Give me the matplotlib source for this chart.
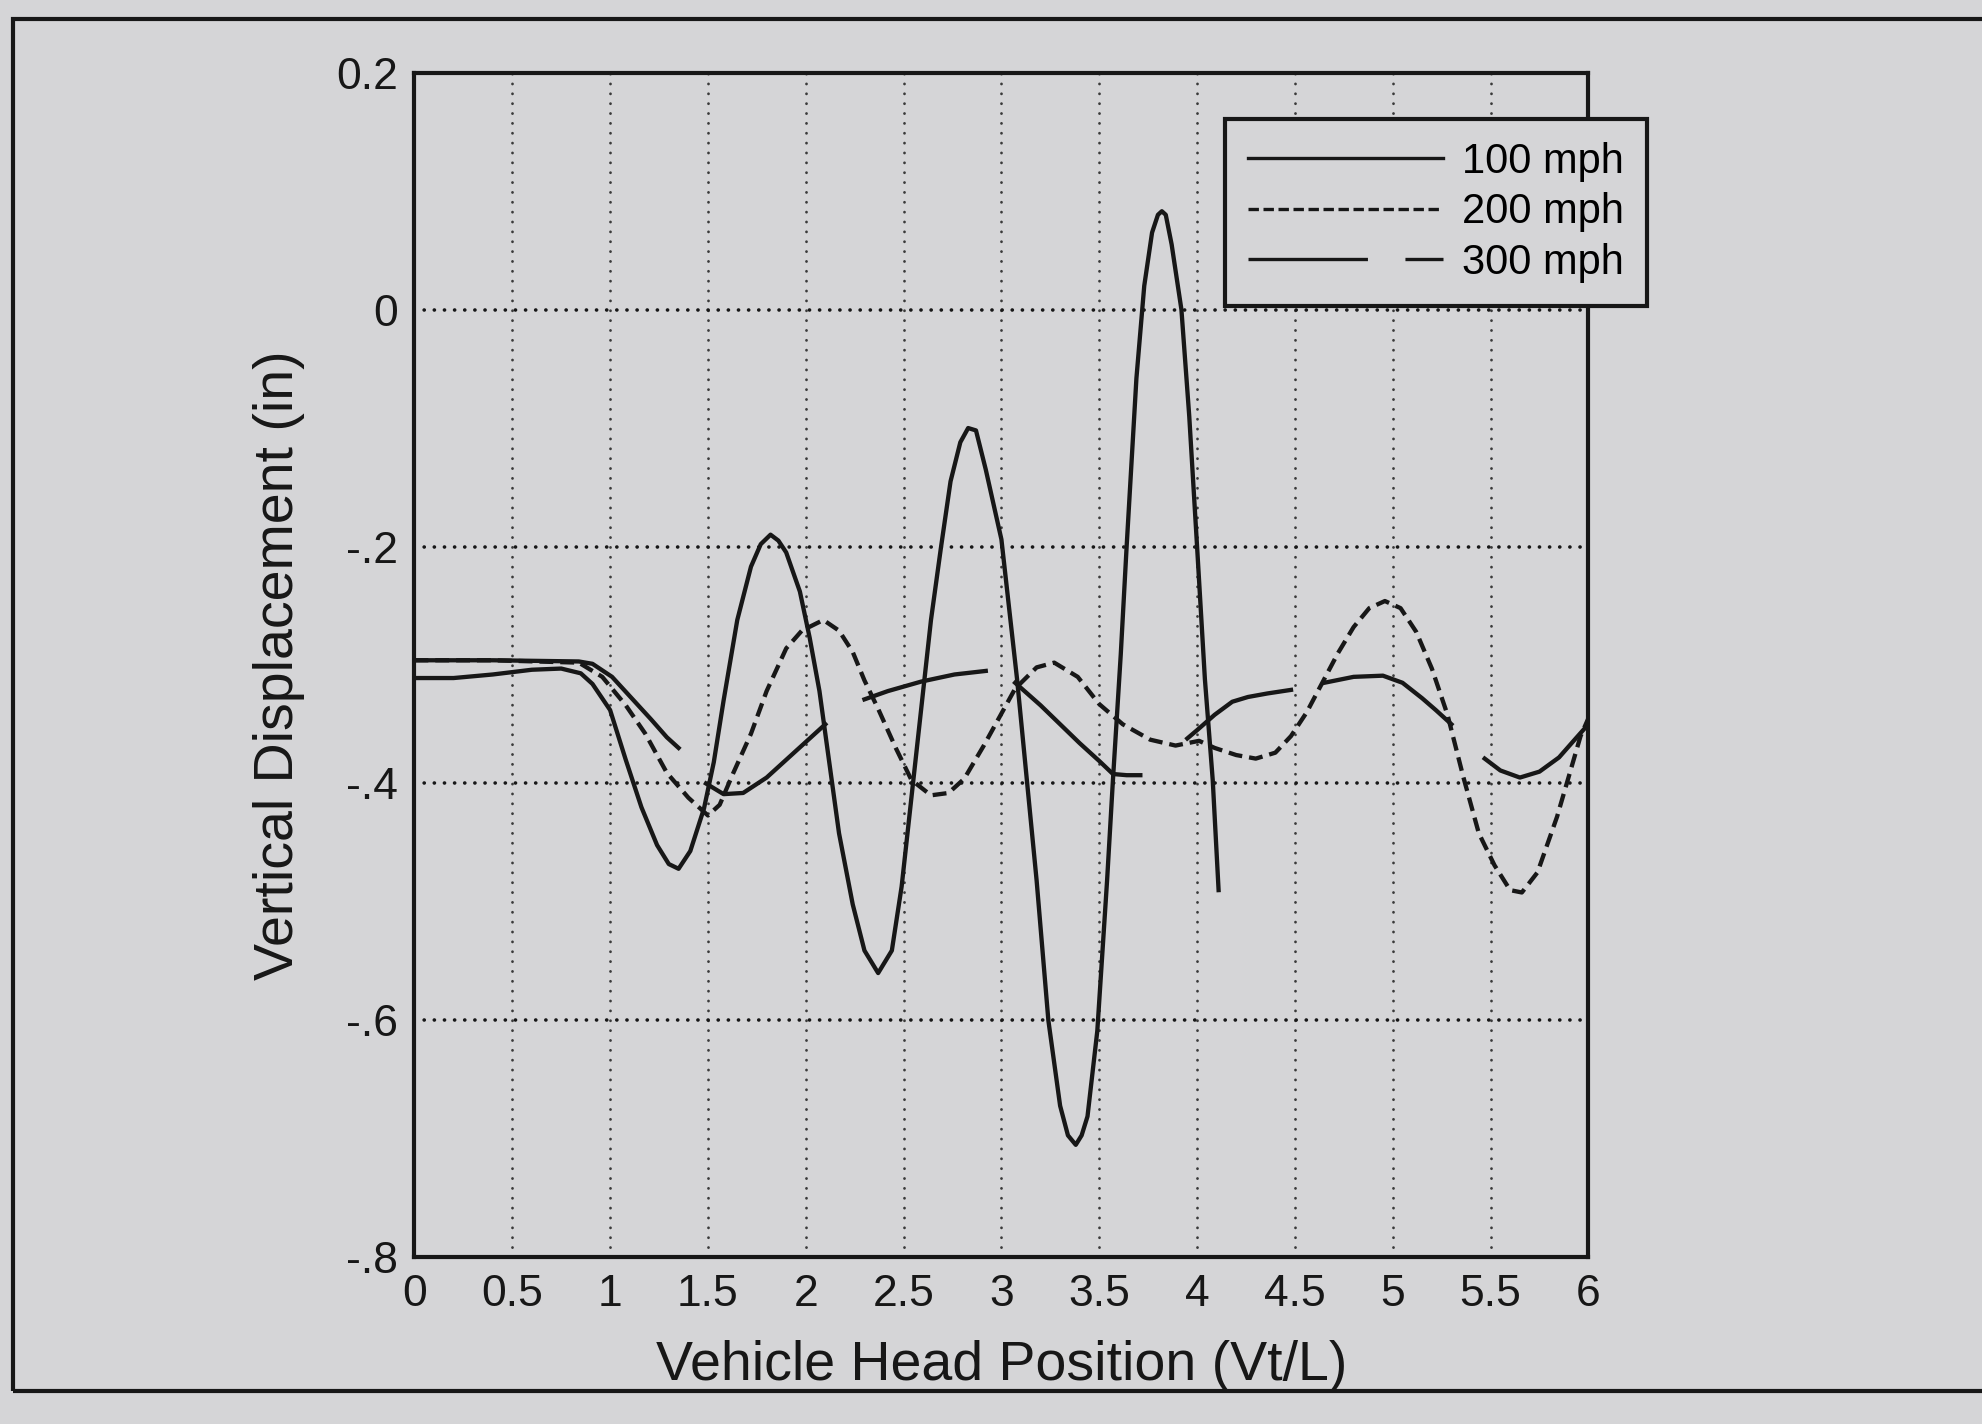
import numpy as np
import matplotlib
matplotlib.use('Agg')
import matplotlib.pyplot as plt
from matplotlib import font_manager
from matplotlib.lines import Line2D
from matplotlib.patches import Rectangle

nan = np.nan

# 100 mph (solid)
x100 = [0, 0.2, 0.4, 0.6, 0.75, 0.85, 0.91, 1.0, 1.08, 1.16, 1.24, 1.3, 1.35, 1.41,
        1.48, 1.53, 1.58, 1.65, 1.72, 1.77, 1.82, 1.86, 1.9, 1.97, 2.02, 2.07, 2.12,
        2.17, 2.24, 2.3, 2.37, 2.44, 2.49, 2.54, 2.59, 2.64, 2.69, 2.74, 2.79, 2.83,
        2.87, 2.92, 3.0, 3.08, 3.13, 3.18, 3.24, 3.30, 3.34, 3.38, 3.41, 3.44, 3.49,
        3.54, 3.57, 3.61, 3.64, 3.69, 3.73, 3.77, 3.80, 3.82, 3.84, 3.87, 3.92, 3.96,
        4.0, 4.04, 4.08, 4.11]
y100 = [-0.311, -0.311, -0.308, -0.304, -0.303, -0.307, -0.316, -0.338, -0.38, -0.42,
        -0.452, -0.468, -0.472, -0.457, -0.421, -0.382, -0.33, -0.262, -0.217, -0.198,
        -0.19, -0.195, -0.205, -0.238, -0.277, -0.322, -0.382, -0.442, -0.502, -0.541,
        -0.56, -0.541, -0.487, -0.412, -0.337, -0.262, -0.202, -0.145, -0.112, -0.1,
        -0.102, -0.135, -0.194, -0.312, -0.397, -0.482, -0.6, -0.672, -0.697, -0.705,
        -0.697, -0.681, -0.609, -0.482, -0.397, -0.291, -0.2, -0.058, 0.02, 0.065,
        0.08, 0.083, 0.08, 0.055, 0.0, -0.09, -0.2, -0.312, -0.397, -0.49]

# 200 mph (dashed)
x200 = [0, 0.4, 0.84, 0.96, 1.08, 1.18, 1.29, 1.4, 1.5, 1.56, 1.63, 1.72, 1.8, 1.9,
        1.98, 2.09, 2.17, 2.24, 2.3, 2.37, 2.46, 2.54, 2.64, 2.73, 2.81, 2.91, 3.07,
        3.18, 3.27, 3.39, 3.5, 3.62, 3.76, 3.89, 4.01, 4.09, 4.2, 4.3, 4.4, 4.48, 4.56,
        4.64, 4.72, 4.8, 4.88, 4.96, 5.04, 5.12, 5.2, 5.28, 5.36, 5.44, 5.52, 5.6, 5.66,
        5.74, 5.84, 5.9, 5.96, 6.0]
y200 = [-0.296, -0.296, -0.298, -0.31, -0.334, -0.358, -0.391, -0.412, -0.427, -0.418,
        -0.391, -0.358, -0.322, -0.286, -0.271, -0.262, -0.271, -0.289, -0.313, -0.337,
        -0.37, -0.397, -0.41, -0.408, -0.396, -0.368, -0.32, -0.302, -0.298, -0.31,
        -0.333, -0.35, -0.363, -0.368, -0.364, -0.37, -0.376, -0.379, -0.374, -0.36,
        -0.34, -0.315, -0.29, -0.268, -0.252, -0.246, -0.252, -0.272, -0.303, -0.342,
        -0.394, -0.442, -0.469, -0.49, -0.492, -0.475, -0.428, -0.394, -0.36, -0.345]

# 300 mph (long-dash segments, breaks as nan)
x300 = [0, 0.4, 0.84, 0.91, 1.01, 1.11, 1.21, 1.29, 1.35, nan,
        1.49, 1.58, 1.68, 1.8, 1.92, 2.02, 2.1, nan,
        2.3, 2.42, 2.59, 2.76, 2.92, nan,
        3.07, 3.2, 3.3, 3.4, 3.5, 3.57, 3.64, 3.71, nan,
        3.95, 4.0, 4.09, 4.18, 4.26, 4.36, 4.48, nan,
        4.65, 4.8, 4.95, 5.05, 5.15, 5.22, 5.3, nan,
        5.47, 5.55, 5.65, 5.75, 5.85, 5.93, 6.0]
y300 = [-0.296, -0.296, -0.297, -0.299, -0.31, -0.328, -0.346, -0.361, -0.37, nan,
        -0.40, -0.409, -0.408, -0.395, -0.377, -0.362, -0.35, nan,
        -0.329, -0.322, -0.314, -0.308, -0.305, nan,
        -0.315, -0.334, -0.35, -0.366, -0.381, -0.392, -0.393, -0.393, nan,
        -0.362, -0.355, -0.342, -0.331, -0.327, -0.324, -0.321, nan,
        -0.315, -0.31, -0.309, -0.315, -0.328, -0.338, -0.35, nan,
        -0.379, -0.389, -0.395, -0.39, -0.378, -0.363, -0.35]

labels = ['100 mph', '200 mph', '300 mph']
xticks = [0, 0.5, 1, 1.5, 2, 2.5, 3, 3.5, 4, 4.5, 5, 5.5, 6]
xtick_labels = ['0', '0.5', '1', '1.5', '2', '2.5', '3', '3.5', '4', '4.5', '5', '5.5', '6']
yticks = [0.2, 0, -0.2, -0.4, -0.6, -0.8]
ytick_labels = ['0.2', '0', '-.2', '-.4', '-.6', '-.8']

names = {f.name for f in font_manager.fontManager.ttflist}
fam = 'Liberation Sans Narrow' if 'Liberation Sans Narrow' in names else 'Liberation Sans'
plt.rcParams['font.family'] = fam
plt.rcParams['lines.scale_dashes'] = False

bg = '#d5d5d7'
ink = '#171717'

fig = plt.figure(figsize=(19.83, 14.24), dpi=100, facecolor=bg)
ax = fig.add_axes([0.209, 0.117, 0.592, 0.832], facecolor=bg)

ax.plot(x100, y100, color=ink, lw=3.1, solid_joinstyle='round')
ax.plot(x200, y200, color=ink, lw=3.1, dashes=(10, 5))
ax.plot(x300, y300, color=ink, lw=3.1, solid_joinstyle='round')

ax.set_xlim(0, 6)
ax.set_ylim(-0.8, 0.2)
ax.set_xticks(xticks, xtick_labels)
ax.set_yticks(yticks, ytick_labels)
ax.tick_params(length=0, labelsize=32, pad=12, colors=ink)
ax.xaxis.grid(True, linestyle=(0, (0.1, 7.0)), lw=2.0, color='#3a3a3a',
              dash_capstyle='round')
ax.yaxis.grid(True, linestyle=(0, (0.1, 7.2)), lw=2.6, color=ink,
              dash_capstyle='round')
for s in ax.spines.values():
    s.set_linewidth(3)
    s.set_color(ink)

ax.set_xlabel('Vehicle Head Position (Vt/L)', fontsize=40, labelpad=18, color=ink)
ax.set_ylabel('Vertical Displacement (in)', fontsize=40, labelpad=22, color=ink)

handles = [Line2D([], [], color=ink, lw=2.4),
           Line2D([], [], color=ink, lw=2.4, dashes=(7.5, 3.3)),
           Line2D([], [], color=ink, lw=2.4, dashes=(86, 27, 28, 300))]
leg = ax.legend(handles, labels, loc='upper right', bbox_to_anchor=(0.8306, 0.9165),
                bbox_transform=fig.transFigure, borderaxespad=0, fontsize=30,
                handlelength=4.7, handletextpad=0.45, labelspacing=0.25,
                borderpad=0.55, fancybox=False, framealpha=1)
leg.get_frame().set_facecolor(bg)
leg.get_frame().set_edgecolor(ink)
leg.get_frame().set_linewidth(3)

fig.add_artist(Rectangle((13 / 1983, 1 - 1391 / 1424), 2.0, (1391 - 19) / 1424,
                         transform=fig.transFigure, fill=False, lw=3, edgecolor=ink))

fig.savefig('out.png', dpi=100, facecolor=bg)
